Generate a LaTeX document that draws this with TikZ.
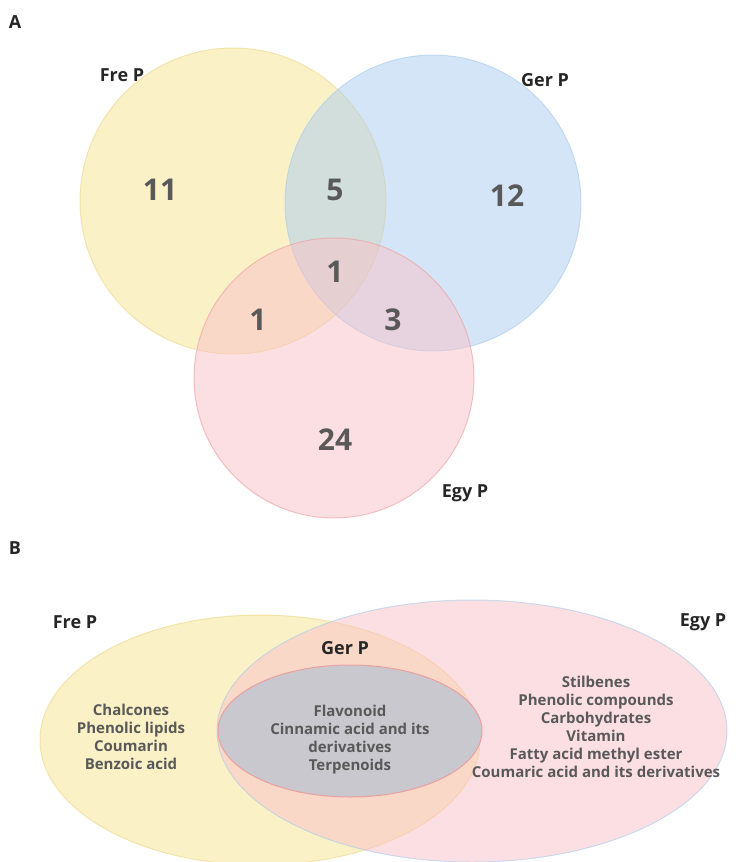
\documentclass[tikz,border=0pt]{standalone}
\usepackage{fontspec}
\setmainfont{Open Sans}
\definecolor{tx}{HTML}{595959}
\definecolor{yf}{HTML}{F6E38E}
\definecolor{ys}{HTML}{EBD78A}
\definecolor{bf}{HTML}{AACBF0}
\definecolor{bs}{HTML}{A9CBEA}
\definecolor{pf}{HTML}{FAC0C7}
\definecolor{ps}{HTML}{EBA0A0}
\definecolor{gf}{HTML}{C8C8CE}
\begin{document}
\begin{tikzpicture}[x=1pt,y=-1pt,
  num/.style={font=\fontsize{30}{32}\selectfont\bfseries,text=tx},
  lab/.style={font=\fontsize{18}{20}\selectfont\bfseries,text=black!85},
  lst/.style={font=\fontsize{15}{18}\selectfont\bfseries,text=tx,align=center},
  setA/.style={fill opacity=0.5,draw opacity=0.6,line width=1pt}]
\useasboundingbox (0,0) rectangle (744,862);
\clip (0,0) rectangle (744,862);
% Part A
\draw[setA,fill=yf,draw=ys] (233,201) circle (153);
\draw[setA,fill=bf,draw=bs] (433,203) circle (148);
\draw[setA,fill=pf,draw=ps] (334,378) circle (140);
\node[lab] (a) at (15,22) {A};
\node[lab] (fp) at (122,75) {Fre P};
\node[lab] (gp) at (545,80) {Ger P};
\node[lab] (ep) at (465,493) {Egy P};
\node[num] (n11) at (160,190) {11};
\node[num] (n5) at (335,190) {5};
\node[num] (n12) at (507,196) {12};
\node[num] (n1a) at (335,272) {1};
\node[num] (n1b) at (258,320) {1};
\node[num] (n3) at (393,320) {3};
\node[num] (n24) at (335,440) {24};
% Part B
\node[lab] (b) at (15,548) {B};
\draw[setA,fill=yf,draw=ys] (260,740) ellipse [x radius=220,y radius=125];
\draw[setA,fill=pf,draw=bs] (472,731) ellipse [x radius=255,y radius=131];
\draw[fill=gf,draw=ps,line width=1pt] (350,731) ellipse [x radius=132,y radius=66];
\node[lab] (bfp) at (75,622) {Fre P};
\node[lab] (bep) at (703,622) {Egy P};
\node[lab] (bgp) at (345,648) {Ger P};
\node[lst] (l1) at (131,737) {Chalcones\\Phenolic lipids\\Coumarin\\Benzoic acid};
\node[lst] (l2) at (350,740) {Flavonoid\\Cinnamic acid and its\\derivatives\\Terpenoids};
\node[lst] (l3) at (596,727) {Stilbenes\\Phenolic compounds\\Carbohydrates\\Vitamin\\Fatty acid methyl ester\\Coumaric acid and its derivatives};
\end{tikzpicture}
\end{document}
